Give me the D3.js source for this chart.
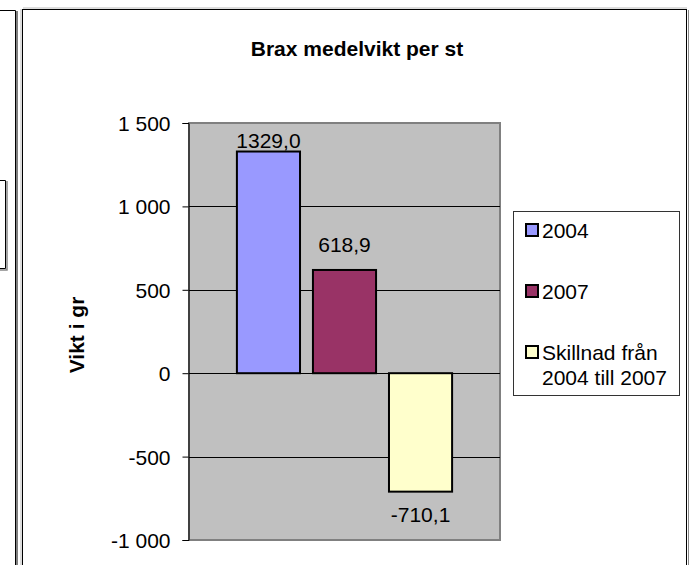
<!DOCTYPE html>
<html>
<head>
<meta charset="utf-8">
<script src="https://cdn.jsdelivr.net/npm/d3@7"></script>
<style>
  body { margin: 0; background: #fff; }
  svg { display: block; font-family: Arial, "Liberation Sans", sans-serif; }
  .tick text { font-size: 21px; fill: #000; }
</style>
</head>
<body>
<svg id="chart" width="692" height="565"></svg>
<script>
// chart data
var title = "Brax medelvikt per st";
var yTitle = "Vikt i gr";
var seriesNames = ["2004", "2007", "Skillnad från 2004 till 2007"];
var legendLines = [["2004"], ["2007"], ["Skillnad från", "2004 till 2007"]];
var seriesValues = [1329.0, 618.9, -710.1];
var seriesColors = ["#9999FF", "#993366", "#FFFFCC"];
var yTicks = [-1000, -500, 0, 500, 1000, 1500];

var sv = d3.formatLocale({
  decimal: ",",
  thousands: "\u00a0",
  grouping: [3],
  currency: ["", " kr"],
  minus: "-"
});
var fmtTick = sv.format(",.0f");
var fmtLabel = sv.format(".1f");

var svg = d3.select("#chart");

// frames: edge of the neighbouring chart + this chart's border
svg.append("path")
  .attr("d", "M-5,10.5H15.5V570")
  .attr("fill", "none").attr("stroke", "#000");
svg.append("line")
  .attr("x1", 17).attr("x2", 17).attr("y1", 11).attr("y2", 570)
  .attr("stroke", "#555").attr("stroke-width", 1.5);
svg.append("path")
  .attr("d", "M-5,180.5H5.5V268.5H-5")
  .attr("fill", "none").attr("stroke", "#000");
svg.append("path")
  .attr("d", "M7,181V270H-5")
  .attr("fill", "none").attr("stroke", "#888").attr("stroke-width", 1.5);

svg.append("line")
  .attr("x1", 21).attr("x2", 21).attr("y1", 9).attr("y2", 570)
  .attr("stroke", "#bbb");
svg.append("rect")
  .attr("x", 22.5).attr("y", 9.5)
  .attr("width", 664).attr("height", 600)
  .attr("fill", "#fff").attr("stroke", "#000");
svg.append("line")
  .attr("x1", 688.5).attr("x2", 688.5).attr("y1", 10).attr("y2", 570)
  .attr("stroke", "#888");
svg.append("line")
  .attr("x1", 23).attr("x2", 687).attr("y1", 8).attr("y2", 8)
  .attr("stroke", "#bbb");

var plot = {left: 189, right: 500, top: 123, bottom: 540};

var y = d3.scaleLinear()
  .domain([-1000, 1500])
  .range([plot.bottom, plot.top]);

var x = d3.scaleBand()
  .domain(seriesNames)
  .range([plot.left, plot.right])
  .paddingInner(0.17)
  .paddingOuter(0.63);

// plot area
svg.append("rect")
  .attr("x", plot.left).attr("y", plot.top)
  .attr("width", plot.right - plot.left)
  .attr("height", plot.bottom - plot.top)
  .attr("fill", "#C0C0C0")
  .attr("stroke", "#808080")
  .attr("stroke-width", 2);

// gridlines
svg.append("g")
  .selectAll("line")
  .data(yTicks.filter(function (t) { return t > -1000 && t < 1500; }))
  .join("line")
  .attr("x1", plot.left).attr("x2", plot.right)
  .attr("y1", function (d) { return Math.round(y(d)) + 0.5; })
  .attr("y2", function (d) { return Math.round(y(d)) + 0.5; })
  .attr("stroke", "#000");

// y axis
var yAxis = d3.axisLeft(y)
  .tickValues(yTicks)
  .tickFormat(fmtTick)
  .tickSizeOuter(0)
  .tickSize(6)
  .tickPadding(12);

var ga = svg.append("g")
  .attr("transform", "translate(" + (plot.left - 0.5) + ",0)")
  .call(yAxis);
ga.select(".domain").attr("stroke", "#000");
ga.selectAll(".tick line").attr("stroke", "#000");
ga.selectAll(".tick text").attr("dy", "0.36em");

// bars
svg.append("g")
  .selectAll("rect")
  .data(seriesValues)
  .join("rect")
  .attr("x", function (d, i) { return x(seriesNames[i]); })
  .attr("width", x.bandwidth())
  .attr("y", function (d) { return y(Math.max(0, d)); })
  .attr("height", function (d) { return Math.abs(y(d) - y(0)); })
  .attr("fill", function (d, i) { return seriesColors[i]; })
  .attr("stroke", "#000")
  .attr("stroke-width", 2);

// value labels
svg.append("g")
  .selectAll("text")
  .data(seriesValues)
  .join("text")
  .attr("x", function (d, i) { return x(seriesNames[i]) + x.bandwidth() / 2; })
  .attr("y", function (d) {
    if (d < 0) return y(d) + 30;
    return Math.max(y(d) - 18, plot.top + 25);
  })
  .attr("text-anchor", "middle")
  .attr("font-size", 21)
  .text(function (d) { return fmtLabel(d); });

// title
svg.append("text")
  .attr("x", 357).attr("y", 56)
  .attr("text-anchor", "middle")
  .attr("font-size", 21)
  .attr("font-weight", "bold")
  .text(title);

// y axis title
svg.append("text")
  .attr("transform", "translate(84," + 335 + ") rotate(-90)")
  .attr("text-anchor", "middle")
  .attr("font-size", 21)
  .attr("font-weight", "bold")
  .text(yTitle);

// legend
var legend = svg.append("g");
legend.append("rect")
  .attr("x", 513.5).attr("y", 211.5)
  .attr("width", 166).attr("height", 184)
  .attr("fill", "#fff")
  .attr("stroke", "#333");

var items = legend.selectAll("g.item")
  .data(seriesNames)
  .join("g")
  .attr("class", "item")
  .attr("transform", function (d, i) { return "translate(525," + (230 + i * 61) + ")"; });

items.append("rect")
  .attr("x", 1).attr("y", -6)
  .attr("width", 12).attr("height", 12)
  .attr("fill", function (d, i) { return seriesColors[i]; })
  .attr("stroke", "#000")
  .attr("stroke-width", 2);

items.append("text")
  .attr("x", 17)
  .attr("font-size", 21)
  .selectAll("tspan")
  .data(function (d, i) { return legendLines[i]; })
  .join("tspan")
  .attr("x", 17)
  .attr("y", function (d, j) { return 7.5 + j * 25; })
  .text(function (d) { return d; });
</script>
</body>
</html>
